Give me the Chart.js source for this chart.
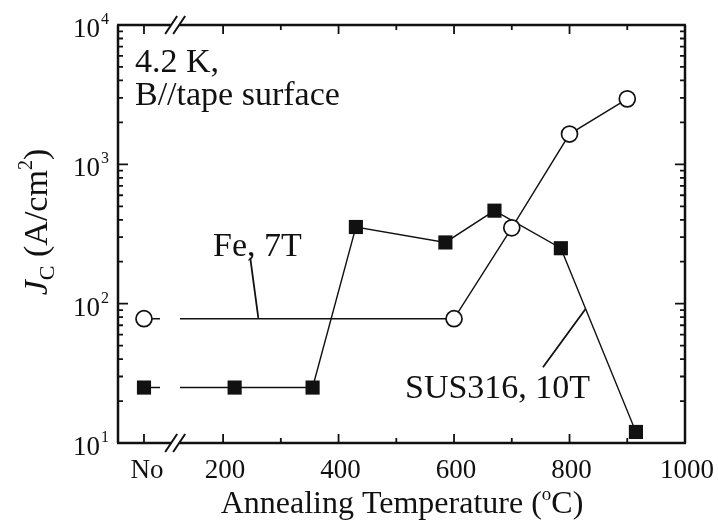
<!DOCTYPE html>
<html>
<head>
<meta charset="utf-8">
<script src="https://cdn.jsdelivr.net/npm/chart.js"></script>
<style>
  html, body { margin: 0; padding: 0; background: #fff; }
  #wrap { width: 718px; height: 525px; }
</style>
</head>
<body>
<div id="wrap"><canvas id="chart" width="718" height="525"></canvas></div>
<script>
// Jc vs annealing temperature, two tapes
// "No" = not annealed, put on the axis left of the break
const noPos = 63;
const breakAt = 117;

const feTemps = ['No', 600, 700, 800, 900];
const feJc = [78, 78, 350, 1650, 2950];

const susTemps = ['No', 220, 355, 430, 585, 670, 785, 915];
const susJc = [25, 25, 25, 355, 275, 465, 250, 12];

const xTicks = [200, 400, 600, 800, 1000];
const xMinor = [300, 500, 700, 900];
const yExps = [1, 2, 3, 4];

const INK = '#111';
const SERIF = '"Liberation Serif", "DejaVu Serif", serif';

function toPoints(temps, vals) {
  return temps.map((t, i) => ({ x: t === 'No' ? noPos : t, y: vals[i] }));
}

// first segment starts from the "No" point: short dash, gap, then solid
const firstSegDash = c => c.p0DataIndex === 0 ? [16, 20, 3000, 0] : undefined;

function txt(ctx, s, x, y, size, align, style) {
  ctx.font = (style || '') + ' ' + size + 'px ' + SERIF;
  ctx.textAlign = align || 'left';
  ctx.textBaseline = 'alphabetic';
  ctx.fillText(s, x, y);
  return ctx.measureText(s).width;
}

// draws a run of [text, size, dy, style] parts left to right, returns width
function runs(ctx, parts, x, y, measureOnly) {
  let cx = x;
  parts.forEach(([s, size, dy, style]) => {
    ctx.font = (style || '') + ' ' + size + 'px ' + SERIF;
    ctx.textAlign = 'left';
    ctx.textBaseline = 'alphabetic';
    if (!measureOnly) ctx.fillText(s, cx, y + (dy || 0));
    cx += ctx.measureText(s).width;
  });
  return cx - x;
}

const frame = {
  id: 'frame',
  afterDraw(chart) {
    const { ctx, chartArea: a, scales: { x, y } } = chart;
    const bx = x.getPixelForValue(breakAt);
    ctx.save();
    ctx.strokeStyle = INK;
    ctx.fillStyle = INK;
    ctx.lineCap = 'butt';

    // box with gaps at the axis break
    ctx.lineWidth = 2.5;
    ctx.beginPath();
    [a.top, a.bottom].forEach(yy => {
      ctx.moveTo(a.left - 1, yy); ctx.lineTo(bx - 4, yy);
      ctx.moveTo(bx + 4, yy); ctx.lineTo(a.right + 1, yy);
    });
    ctx.moveTo(a.left, a.top); ctx.lineTo(a.left, a.bottom);
    ctx.moveTo(a.right, a.top); ctx.lineTo(a.right, a.bottom);
    ctx.stroke();

    // break marks
    ctx.lineWidth = 2;
    ctx.beginPath();
    [a.top, a.bottom].forEach(yy => {
      [-4, 4].forEach(o => {
        ctx.moveTo(bx + o - 6, yy + 9);
        ctx.lineTo(bx + o + 6, yy - 9);
      });
    });
    ctx.stroke();

    // inward ticks
    ctx.lineWidth = 1.8;
    ctx.beginPath();
    yExps.forEach(e => {
      const base = Math.pow(10, e);
      const py = y.getPixelForValue(base);
      ctx.moveTo(a.left, py); ctx.lineTo(a.left + 10, py);
      ctx.moveTo(a.right, py); ctx.lineTo(a.right - 10, py);
      if (e < 4) {
        for (let k = 2; k <= 9; k++) {
          const pm = y.getPixelForValue(k * base);
          ctx.moveTo(a.left, pm); ctx.lineTo(a.left + 5, pm);
          ctx.moveTo(a.right, pm); ctx.lineTo(a.right - 5, pm);
        }
      }
    });
    [noPos].concat(xTicks).forEach(v => {
      const px = x.getPixelForValue(v);
      ctx.moveTo(px, a.bottom); ctx.lineTo(px, a.bottom - 9);
      ctx.moveTo(px, a.top); ctx.lineTo(px, a.top + 9);
    });
    xMinor.forEach(v => {
      const px = x.getPixelForValue(v);
      ctx.moveTo(px, a.bottom); ctx.lineTo(px, a.bottom - 5);
      ctx.moveTo(px, a.top); ctx.lineTo(px, a.top + 5);
    });
    ctx.stroke();

    // y tick labels 10^n
    yExps.forEach(e => {
      const py = y.getPixelForValue(Math.pow(10, e));
      txt(ctx, '10', a.left - 18, py + 12, 27, 'right');
      txt(ctx, String(e), a.left - 17, py - 1, 16, 'left');
    });

    // x tick labels
    txt(ctx, 'No', x.getPixelForValue(noPos) + 3, a.bottom + 35, 27, 'center');
    xTicks.forEach(v => txt(ctx, String(v), x.getPixelForValue(v) + 2, a.bottom + 35, 27, 'center'));

    // x title with degree mark
    const xt = [['Annealing Temperature (', 32], ['o', 19, -13], ['C)', 32]];
    const wX = runs(ctx, xt, 0, 0, true);
    runs(ctx, xt, 402 - wX / 2, 513);

    // y title, rotated
    const yt = [['J', 34, 0, 'italic'], ['C', 22, 7], [' (A/cm', 34], ['2', 20, -15], [')', 34]];
    const wY = runs(ctx, yt, 0, 0, true);
    ctx.save();
    ctx.translate(47, 222);
    ctx.rotate(-Math.PI / 2);
    runs(ctx, yt, -wY / 2, 0);
    ctx.restore();

    // notes
    txt(ctx, '4.2 K,', 135, 72, 34);
    txt(ctx, 'B//tape surface', 135, 105, 34);
    txt(ctx, 'Fe, 7T', 213, 256, 34);
    txt(ctx, 'SUS316, 10T', 405, 398, 34);

    // leader lines, ends given in data units
    ctx.lineWidth = 1.8;
    ctx.beginPath();
    ctx.moveTo(x.getPixelForValue(247), y.getPixelForValue(214));
    ctx.lineTo(x.getPixelForValue(261), y.getPixelForValue(79));
    ctx.moveTo(x.getPixelForValue(754), y.getPixelForValue(35));
    ctx.lineTo(x.getPixelForValue(828), y.getPixelForValue(92));
    ctx.stroke();
    ctx.restore();
  }
};

function renderChart() {
  const ctx = document.querySelector('#chart').getContext('2d');
  new Chart(ctx, {
    type: 'scatter',
    data: {
      datasets: [
        {
          label: 'Fe, 7T',
          data: toPoints(feTemps, feJc),
          showLine: true,
          borderColor: INK,
          borderWidth: 1.4,
          pointStyle: 'circle',
          pointRadius: 8,
          pointBorderWidth: 1.7,
          pointBackgroundColor: '#fff',
          pointBorderColor: INK,
          segment: { borderDash: firstSegDash }
        },
        {
          label: 'SUS316, 10T',
          data: toPoints(susTemps, susJc),
          showLine: true,
          borderColor: INK,
          borderWidth: 1.4,
          pointStyle: 'rect',
          pointRadius: 10,
          pointBorderWidth: 0,
          pointBackgroundColor: INK,
          pointBorderColor: INK,
          segment: { borderDash: firstSegDash }
        }
      ]
    },
    options: {
      responsive: false,
      animation: false,
      layout: { padding: { top: 25, right: 33, left: 0, bottom: 0 } },
      plugins: { legend: { display: false }, tooltip: { enabled: false } },
      scales: {
        x: {
          type: 'linear', min: 18, max: 1000,
          grid: { display: false }, border: { display: false },
          ticks: { display: false },
          afterFit: s => { s.height = 82; }
        },
        y: {
          type: 'logarithmic', min: 10, max: 10000,
          grid: { display: false }, border: { display: false },
          ticks: { display: false },
          afterFit: s => { s.width = 118; }
        }
      }
    },
    plugins: [frame]
  });
}
renderChart();
</script>
</body>
</html>
